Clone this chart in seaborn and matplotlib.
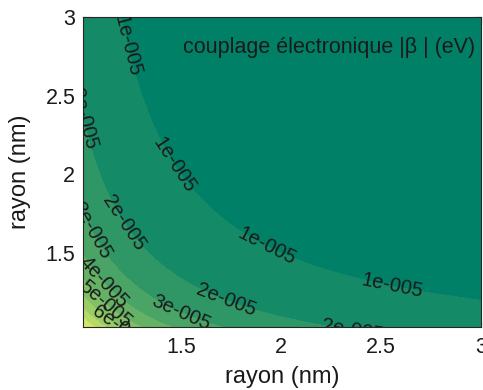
import numpy as np
import matplotlib
matplotlib.use("Agg")
import matplotlib.pyplot as plt
import seaborn as sns

# --- data ----------------------------------------------------------------
# radius grid (nm), same for both particles
rayon = [1.01] + [round(1.05 + 0.05 * i, 2) for i in range(40)]
# |beta| on the diagonal r1 = r2 (units of 1e-5 eV), field is separable
beta_diag = [9.747, 7.891, 6.193, 4.963, 4.052, 3.362, 2.830, 2.412, 2.080,
             1.812, 1.593, 1.412, 1.262, 1.135, 1.027, 0.935, 0.855, 0.786,
             0.726, 0.673, 0.627, 0.585, 0.548, 0.515, 0.486, 0.459, 0.435,
             0.413, 0.393, 0.375, 0.358, 0.343, 0.328, 0.315, 0.303, 0.292,
             0.282, 0.272, 0.263, 0.254, 0.246]
niveaux = [1e-5, 2e-5, 3e-5, 4e-5, 5e-5, 6e-5, 7e-5, 8e-5, 9e-5]
x_ticks = [1.5, 2, 2.5, 3]
y_ticks = [1.5, 2, 2.5, 3]
x_tick_labels = ["1.5", "2", "2.5", "3"]
y_tick_labels = ["1.5", "2", "2.5", "3"]
titre = "couplage électronique |β | (eV)"
xlabel = "rayon (nm)"
ylabel = "rayon (nm)"

# approximate label anchor points (data coords)
label_pos = [(1.145, 2.79), (1.435, 2.03), (1.92, 1.52), (2.555, 1.277),
             (1.045, 2.45), (1.21, 1.69), (1.725, 1.2), (2.37, 1.05),
             (1.06, 1.65), (1.5, 1.125),
             (1.10, 1.30), (1.12, 1.17), (1.2, 1.04)]

# --- style ---------------------------------------------------------------
sns.set_theme(style="ticks")
plt.rcParams['font.family'] = ['Liberation Sans', 'DejaVu Sans']

r = np.array(rayon)
d = np.array(beta_diag) * 1e-5
Z = np.sqrt(np.outer(d, d))
X, Y = np.meshgrid(r, r)

zmin, zmax = float(Z.min()), float(Z.max())
cmap = sns.color_palette("summer", as_cmap=True)
lower = [zmin] + niveaux
colors = [cmap((v - zmin) / (zmax - zmin)) for v in lower]
fill_levels = [0.0] + niveaux + [zmax * 1.01]

fig = plt.figure(figsize=(4.83, 3.90), dpi=100)
ax = fig.add_axes([83 / 483, 63 / 390, 398 / 483, 310 / 390])
ax.contourf(X, Y, Z, levels=fill_levels, colors=colors)
cs = ax.contour(X, Y, Z, levels=niveaux, colors='none')
texts = ax.clabel(cs, manual=label_pos, inline=True, fontsize=14.5,
                  colors='k', fmt=lambda v: f"{int(round(v * 1e5))}e-005")
for t in texts:
    t.set_clip_on(True)

ax.set_xlim(1.01, 3)
ax.set_ylim(1.03, 3)
ax.set_xticks(x_ticks)
ax.set_xticklabels(x_tick_labels)
ax.set_yticks(y_ticks)
ax.set_yticklabels(y_tick_labels)
ax.tick_params(axis='both', direction='in', top=True, right=True, length=5,
               width=0.8, color='#262626', labelsize=15.5, labelcolor='k')
ax.tick_params(axis='x', pad=7)
ax.tick_params(axis='y', pad=5.5)
for s in ax.spines.values():
    s.set_color('#262626')
    s.set_linewidth(0.8)

ax.text(0.985, 0.9, titre, transform=ax.transAxes, ha='right', va='center',
        fontsize=15.5, color='k')
ax.set_xlabel(xlabel, fontsize=17, color='k')
ax.set_ylabel(ylabel, fontsize=17, color='k')
ax.xaxis.set_label_coords(0.5, -0.125)
ax.yaxis.set_label_coords(-0.13, 0.5)

fig.savefig("out.png", dpi=100)
